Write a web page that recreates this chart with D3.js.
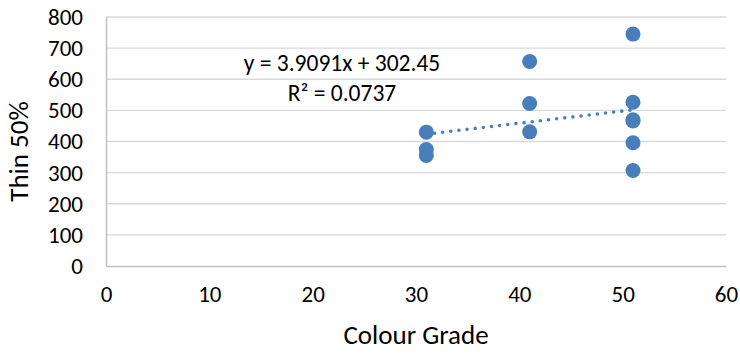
<!DOCTYPE html>
<html>
<head>
<meta charset="utf-8">
<script src="https://cdn.jsdelivr.net/npm/d3@7"></script>
<style>
  html, body { margin: 0; padding: 0; background: #ffffff; }
  svg { display: block; }
  text { font-family: Carlito, Calibri, "Liberation Sans", Arial, sans-serif; fill: #000; }
</style>
</head>
<body>
<svg id="chart" width="740" height="356"></svg>
<script>
// ---- data ----
const colourGrade = [31, 31, 31, 41, 41, 41, 51, 51, 51, 51, 51, 51];
const thin50 = [430, 374, 355, 657, 522, 431, 745, 526, 470, 466, 396, 307];
const xTicks = [0, 10, 20, 30, 40, 50, 60];
const yTicks = [0, 100, 200, 300, 400, 500, 600, 700, 800];
const trendSlope = 3.9091;
const trendIntercept = 302.45;
const trendLabel = ["y = 3.9091x + 302.45", "R² = 0.0737"];
const xTitle = "Colour Grade";
const yTitle = "Thin 50%";

// ---- layout ----
const svg = d3.select("#chart");
const L = 106, R = 726, T = 17, B = 266;
const FONT = 'Carlito, Calibri, "Liberation Sans", Arial, sans-serif';
const x = d3.scaleLinear().domain([0, 60]).range([L, R]);
const y = d3.scaleLinear().domain([0, 800]).range([B, T]);

// gridlines
svg.append("g")
  .selectAll("line")
  .data(yTicks.filter(d => d > 0))
  .join("line")
  .attr("x1", L).attr("x2", R)
  .attr("y1", d => y(d)).attr("y2", d => y(d))
  .attr("stroke", "#d9d9d9").attr("stroke-width", 1.3);

// axes
const xAxis = svg.append("g").attr("transform", `translate(0,${B})`)
  .call(d3.axisBottom(x).tickValues(xTicks).tickSize(0).tickPadding(20));
xAxis.select(".domain").attr("stroke", "#bfbfbf").attr("stroke-width", 1.5);
xAxis.selectAll("text").attr("font-size", 23).attr("fill", "#000")
  .attr("font-family", FONT);

const yAxis = svg.append("g").attr("transform", `translate(${L},0)`)
  .call(d3.axisLeft(y).tickValues(yTicks).tickSize(0).tickPadding(23));
yAxis.select(".domain").attr("stroke", "#bfbfbf").attr("stroke-width", 1.5);
yAxis.selectAll("text").attr("font-size", 23).attr("fill", "#000")
  .attr("font-family", FONT);

// titles
svg.append("text")
  .attr("x", (L + R) / 2 - 0).attr("y", 344)
  .attr("text-anchor", "middle").attr("font-size", 27)
  .text(xTitle);
svg.append("text")
  .attr("transform", `translate(28,${(T + B) / 2 + 10}) rotate(-90)`)
  .attr("text-anchor", "middle").attr("font-size", 27)
  .text(yTitle);

// trendline
const xExt = d3.extent(colourGrade);
svg.append("line")
  .attr("x1", x(xExt[0])).attr("y1", y(trendSlope * xExt[0] + trendIntercept))
  .attr("x2", x(xExt[1])).attr("y2", y(trendSlope * xExt[1] + trendIntercept))
  .attr("stroke", "#4a7ebb").attr("stroke-width", 3.6)
  .attr("stroke-linecap", "round").attr("stroke-dasharray", "0 8.2");

// points
svg.append("g")
  .selectAll("circle")
  .data(colourGrade.map((c, i) => ({ c, v: thin50[i] })))
  .join("circle")
  .attr("cx", d => x(d.c)).attr("cy", d => y(d.v))
  .attr("r", 7.5).attr("fill", "#4a7ebb");

// equation label
svg.append("g").selectAll("text")
  .data(trendLabel)
  .join("text")
  .attr("x", 342).attr("y", (d, i) => 71 + i * 29.5)
  .attr("text-anchor", "middle").attr("font-size", 23.5)
  .text(d => d);
</script>
</body>
</html>
